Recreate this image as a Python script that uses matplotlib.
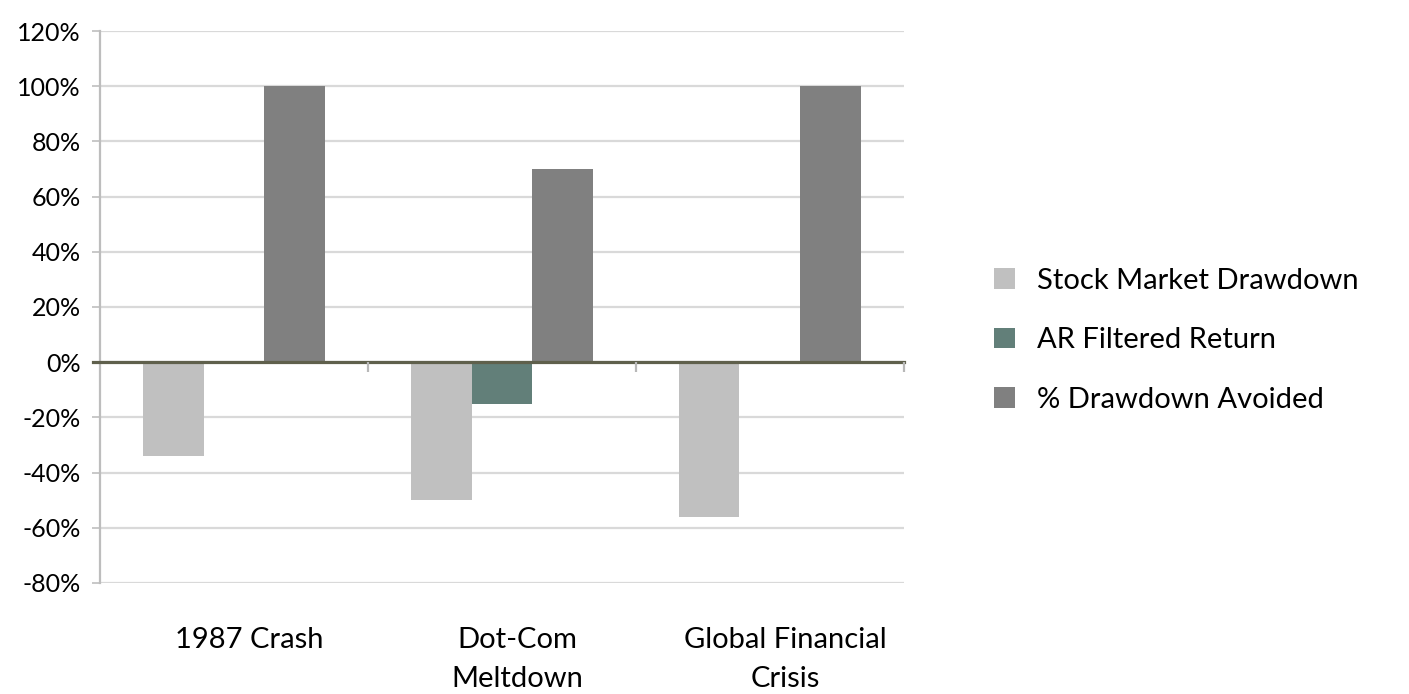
import matplotlib.pyplot as plt
import matplotlib.transforms as mtransforms
import numpy as np

# crash events and the three series (percent)
categories = ['1987 Crash', 'Dot-Com\nMeltdown', 'Global Financial\nCrisis']
series_names = ['Stock Market Drawdown', 'AR Filtered Return', '% Drawdown Avoided']
stock_drawdown = [-34, -50, -56]
ar_filtered = [0, -15, 0]
drawdown_avoided = [100, 70, 100]
colors = ['#c0c0c0', '#627f79', '#808080']
yticks = [-80, -60, -40, -20, 0, 20, 40, 60, 80, 100, 120]

plt.rcParams['font.family'] = ['Lato', 'DejaVu Sans']

fig = plt.figure(figsize=(14.09, 6.94), dpi=100)
ax = fig.add_axes([0.071, 0.160, 0.5705, 0.7953])

x = np.arange(len(categories))
w = 0.227
for i, (vals, name, c) in enumerate(zip([stock_drawdown, ar_filtered, drawdown_avoided],
                                        series_names, colors)):
    ax.bar(x + (i - 1) * w, vals, w, color=c, label=name, zorder=2)

ax.set_xlim(-0.5, 2.5)
ax.set_ylim(-80, 120)
ax.set_yticks(yticks)
ax.set_yticklabels(['%d%%' % v for v in yticks], fontsize=18)
ax.yaxis.grid(True, color='#d9d9d9', lw=1.6, zorder=0)
ax.set_axisbelow(True)
ax.tick_params(axis='y', length=6, width=1.4, color='#c8c8c8', pad=8)

# zero line with category separator ticks
ax.axhline(0, xmin=-0.009, color='#5f604c', lw=2.3, zorder=3, clip_on=False)
ax.vlines([0.5, 1.5, 2.5], -3.6, 0, color='#b8b8b8', lw=1.6, zorder=3, clip_on=False)

ax.set_xticks(x)
ax.set_xticklabels(categories, fontsize=21, linespacing=1.6)
ax.tick_params(axis='x', length=0, pad=32)
offset = mtransforms.ScaledTranslation(0.15, 0, fig.dpi_scale_trans)
for lab in ax.get_xticklabels():
    lab.set_transform(lab.get_transform() + offset)

for s in ['top', 'right', 'bottom']:
    ax.spines[s].set_visible(False)
ax.spines['left'].set_color('#bdbdbd')
ax.spines['left'].set_linewidth(1.6)

leg = ax.legend(loc='center left', bbox_to_anchor=(1.08, 0.44), frameon=False,
                fontsize=21, handlelength=0.7, handleheight=0.7,
                handletextpad=0.75, labelspacing=1.15)

fig.savefig('out.png', dpi=100)
